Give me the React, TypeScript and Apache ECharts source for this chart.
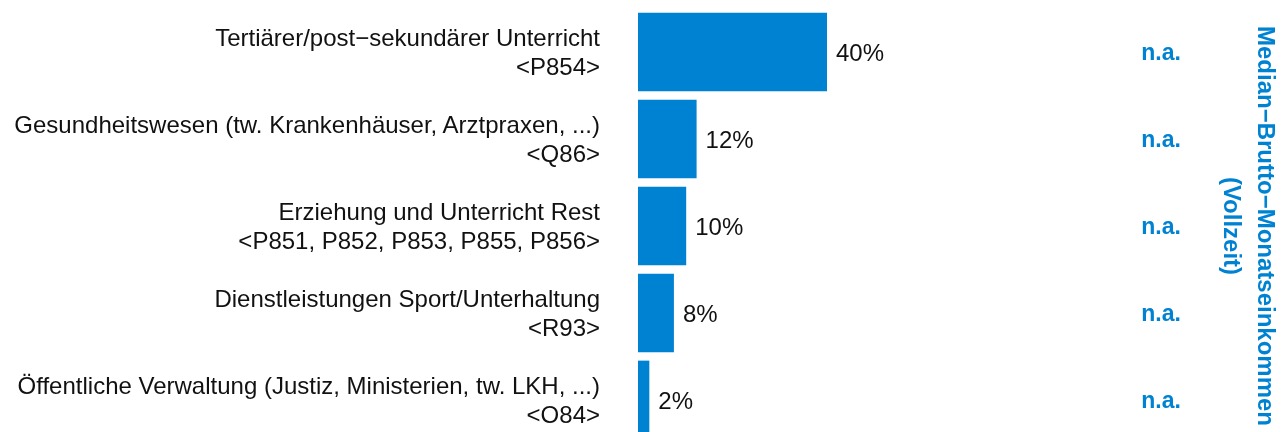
import React, { useEffect, useRef } from "react";
import * as echarts from "echarts";

const categories: string[] = [
  "Tertiärer/post−sekundärer Unterricht\n<P854>",
  "Gesundheitswesen (tw. Krankenhäuser, Arztpraxen, ...)\n<Q86>",
  "Erziehung und Unterricht Rest\n<P851, P852, P853, P855, P856>",
  "Dienstleistungen Sport/Unterhaltung\n<R93>",
  "Öffentliche Verwaltung (Justiz, Ministerien, tw. LKH, ...)\n<O84>",
];
const shares: number[] = [40, 12.4, 10.2, 7.6, 2.4];
const incomeLabels: string[] = ["n.a.", "n.a.", "n.a.", "n.a.", "n.a."];
const titleText = "Median−Brutto−Monatseinkommen\n(Vollzeit)";

const BLUE = "#0082D2";
const FONT = "'Liberation Sans', Arial, Helvetica, sans-serif";

export default function App() {
  const ref = useRef<HTMLDivElement>(null);
  useEffect(() => {
    if (!ref.current) return;
    const chart = echarts.init(ref.current, undefined, { renderer: "svg" });
    const gridLeft = 638;
    const xMax = 50;
    const gridWidth = (189 / 40) * xMax;
    chart.setOption({
      animation: false,
      textStyle: { fontFamily: FONT },
      grid: {
        left: gridLeft,
        width: gridWidth,
        top: 8.5,
        height: 435,
        containLabel: false,
        outerBoundsMode: "none",
      },
      xAxis: {
        type: "value",
        min: 0,
        max: xMax,
        show: false,
      },
      yAxis: [
        {
          type: "category",
          data: categories,
          inverse: true,
          position: "left",
          axisLine: { show: false },
          axisTick: { show: false },
          splitLine: { show: false },
          axisLabel: {
            margin: 38,
            align: "right",
            fontSize: 24,
            lineHeight: 29,
            color: "#111111",
            fontFamily: FONT,
          },
        },
        {
          type: "category",
          data: incomeLabels,
          inverse: true,
          position: "right",
          axisLine: { show: false },
          axisTick: { show: false },
          splitLine: { show: false },
          axisLabel: {
            margin: 1161 - (gridLeft + gridWidth),
            align: "center",
            fontSize: 23,
            fontWeight: "bold",
            color: BLUE,
            fontFamily: FONT,
          },
        },
      ],
      series: [
        {
          type: "bar",
          data: shares,
          yAxisIndex: 0,
          barCategoryGap: "9.5%",
          itemStyle: { color: BLUE },
          label: {
            show: true,
            position: "right",
            distance: 9,
            fontSize: 24,
            color: "#111111",
            fontFamily: FONT,
            formatter: (p: any) => `${Math.round(p.value)}%`,
          },
        },
      ],
      graphic: [
        {
          type: "text",
          x: 1249,
          y: 226,
          rotation: -Math.PI / 2,
          style: {
            text: titleText,
            fontSize: 24,
            fontWeight: "bold",
            lineHeight: 34,
            fill: BLUE,
            align: "center",
            verticalAlign: "middle",
            fontFamily: FONT,
          },
        },
      ],
    });
    return () => chart.dispose();
  }, []);
  return (
    <div
      ref={ref}
      style={{ position: "fixed", left: 0, top: 0, width: 1284, height: 432 }}
    />
  );
}
